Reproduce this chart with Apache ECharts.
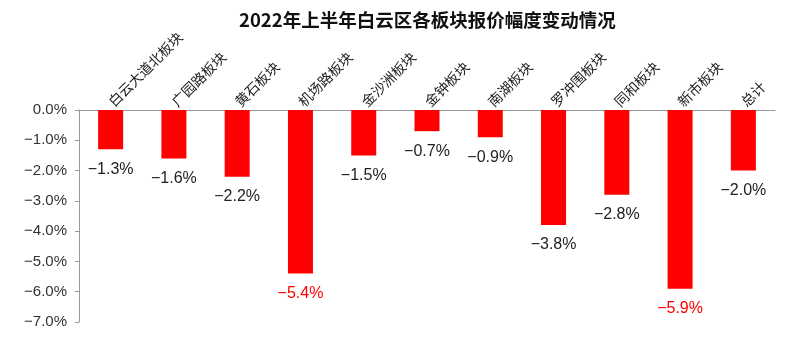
<!DOCTYPE html>
<html><head><meta charset="utf-8">
<script src="https://cdn.jsdelivr.net/npm/echarts@6/dist/echarts.min.js"></script>
<style>html,body{margin:0;padding:0;background:#fff}#c{width:787px;height:359px}</style>
</head><body><div id="c"></div>
<script>
const categories = ['白云大道北板块','广园路板块','黄石板块','机场路板块','金沙洲板块','金钟板块','南湖板块','罗冲围板块','同和板块','新市板块','总计'];
const values = [-1.3,-1.6,-2.2,-5.4,-1.5,-0.7,-0.9,-3.8,-2.8,-5.9,-2.0];
const highlighted = ['机场路板块','新市板块'];
const yTicks = [0,-1,-2,-3,-4,-5,-6,-7];

const fmt = v => (v < 0 ? '−' : '') + Math.abs(v).toFixed(1) + '%';
const chart = echarts.init(document.getElementById('c'));
chart.setOption({
  animation: false,
  backgroundColor: '#fff',
  title: {
    text: '2022年上半年白云区各板块报价幅度变动情况',
    left: 234, top: 6,
    textStyle: {fontFamily: 'Noto Sans CJK SC', fontSize: 18.5, fontWeight: 'bold', color: '#111'}
  },
  grid: {left: 79, right: 12, top: 110, bottom: 37},
  xAxis: {
    type: 'category', position: 'top', data: categories,
    axisLine: {lineStyle: {color: '#999'}},
    axisTick: {inside: true, length: 4, lineStyle: {color: '#999'}},
    axisLabel: {rotate: 45, fontSize: 14, color: '#222', fontFamily: 'Noto Sans CJK SC', margin: 6, interval: 0}
  },
  yAxis: {
    type: 'value', min: yTicks[yTicks.length-1], max: yTicks[0], interval: 1,
    splitLine: {show: false},
    axisLine: {show: true, lineStyle: {color: '#999'}},
    axisTick: {show: true, length: 4, lineStyle: {color: '#999'}},
    axisLabel: {formatter: fmt, fontSize: 15, color: '#333', fontFamily: 'Liberation Sans', margin: 12}
  },
  series: [{
    type: 'bar', barWidth: 25,
    data: values.map((v, i) => ({
      value: v,
      label: {color: highlighted.includes(categories[i]) ? '#ff0000' : '#222'}
    })),
    itemStyle: {color: '#ff0000'},
    label: {show: true, position: 'bottom', distance: 12, fontSize: 16, fontFamily: 'Liberation Sans',
      formatter: p => fmt(p.value)}
  }]
});
</script></body></html>
